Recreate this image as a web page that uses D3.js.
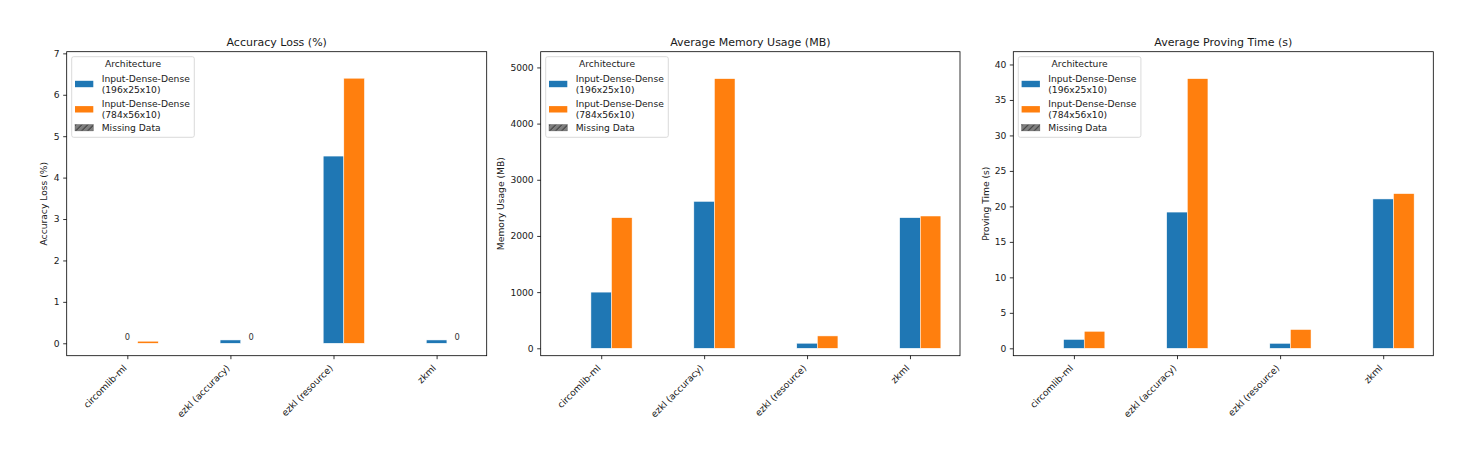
<!DOCTYPE html>
<html>
<head>
<meta charset="utf-8">
<script src="https://cdn.jsdelivr.net/npm/d3@7"></script>
<style>
  html, body { margin: 0; padding: 0; background: #fff; }
  svg { display: block; font-family: "DejaVu Sans", sans-serif; }
</style>
</head>
<body>
<svg id="chart" width="1472" height="450"></svg>
<script>
// ---- data ----
const categories = ["circomlib-ml", "ezkl (accuracy)", "ezkl (resource)", "zkml"];
const seriesNames = ["Input-Dense-Dense\n(196x25x10)", "Input-Dense-Dense\n(784x56x10)"];
const seriesColors = ["#1f77b4", "#ff7f0e"];

const accuracySmall = [0, 0.08, 4.52, 0.08];
const accuracyLarge = [0.05, 0, 6.4, 0];
const accuracyTicks = [0, 1, 2, 3, 4, 5, 6, 7];

const memorySmall = [1000, 2615, 90, 2325];
const memoryLarge = [2325, 4800, 220, 2355];
const memoryTicks = [0, 1000, 2000, 3000, 4000, 5000];

const timeSmall = [1.25, 19.2, 0.7, 21.05];
const timeLarge = [2.4, 38.0, 2.65, 21.8];
const timeTicks = [0, 5, 10, 15, 20, 25, 30, 35, 40];

const panels = [
  { title: "Accuracy Loss (%)", ylabel: "Accuracy Loss (%)", small: accuracySmall, large: accuracyLarge,
    ticks: accuracyTicks, ymin: -0.3, ymax: 7.04, left: 66.7, right: 486.7, ylabelX: 43.5, zeroLabels: true },
  { title: "Average Memory Usage (MB)", ylabel: "Memory Usage (MB)", small: memorySmall, large: memoryLarge,
    ticks: memoryTicks, ymin: -132, ymax: 5280, left: 540.7, right: 960, ylabelX: 500, zeroLabels: false },
  { title: "Average Proving Time (s)", ylabel: "Proving Time (s)", small: timeSmall, large: timeLarge,
    ticks: timeTicks, ymin: -1.04, ymax: 41.8, left: 1013.3, right: 1433.3, ylabelX: 985, zeroLabels: false }
];

const svg = d3.select("#chart");
const axTop = 51.7, axBottom = 355.7;
const barW = 0.2;
const fs = 9.17;
const textColor = "#1a1a1a";

// hatch pattern
const defs = svg.append("defs");
const pat = defs.append("pattern").attr("id", "hatch").attr("patternUnits", "userSpaceOnUse")
  .attr("width", 6).attr("height", 6);
pat.append("rect").attr("width", 6).attr("height", 6).attr("fill", "#7f7f7f");
pat.append("path").attr("d", "M-1,7 L7,-1").attr("stroke", "#222").attr("stroke-width", 1);

panels.forEach(p => {
  const g = svg.append("g");
  const x = d3.scaleLinear().domain([-0.588, 3.486]).range([p.left, p.right]);
  const y = d3.scaleLinear().domain([p.ymin, p.ymax]).range([axBottom, axTop]);

  // bars
  const seriesVals = [p.small, p.large];
  seriesVals.forEach((vals, si) => {
    g.selectAll(null).data(vals.map((v, i) => ({ v, i }))).enter()
      .append("rect")
      .attr("x", d => x(d.i + si * barW - barW / 2))
      .attr("width", d => x(barW) - x(0))
      .attr("y", d => y(Math.max(d.v, 0)))
      .attr("height", d => Math.abs(y(0) - y(d.v)))
      .attr("fill", seriesColors[si])
      .attr("stroke", "#fff").attr("stroke-width", 0.5);
    if (p.zeroLabels) {
      g.selectAll(null).data(vals.map((v, i) => ({ v, i })).filter(d => d.v === 0)).enter()
        .append("text")
        .attr("x", d => x(d.i + si * barW))
        .attr("y", y(0) - 3)
        .attr("text-anchor", "middle")
        .attr("font-size", 8.3)
        .attr("fill", "#333")
        .text("0");
    }
  });

  // y axis
  const yAxis = d3.axisLeft(y).tickValues(p.ticks).tickSize(3.5).tickPadding(3.5).tickFormat(d3.format("d"));
  const ya = g.append("g").attr("transform", `translate(${p.left},0)`).call(yAxis);
  ya.select(".domain").remove();
  ya.selectAll("line").attr("stroke", "#000").attr("stroke-width", 0.8);
  ya.selectAll("text").attr("font-size", fs).attr("fill", textColor).attr("font-family", "DejaVu Sans");

  // x axis
  const xAxis = d3.axisBottom(x).tickValues(d3.range(categories.length)).tickSize(3.5).tickFormat(() => "");
  const xa = g.append("g").attr("transform", `translate(0,${axBottom})`).call(xAxis);
  xa.select(".domain").remove();
  xa.selectAll("line").attr("stroke", "#000").attr("stroke-width", 0.8);
  g.selectAll(null).data(categories).enter().append("text")
    .attr("transform", (d, i) => `translate(${x(i) - 2.5},${axBottom + 10.5}) rotate(-45)`)
    .attr("text-anchor", "end")
    .attr("dominant-baseline", "central")
    .attr("font-size", fs)
    .attr("fill", textColor)
    .text(d => d);

  // frame
  g.append("rect").attr("x", p.left).attr("y", axTop).attr("width", p.right - p.left).attr("height", axBottom - axTop)
    .attr("fill", "none").attr("stroke", "#000").attr("stroke-width", 0.8);

  // title
  g.append("text").attr("x", (p.left + p.right) / 2).attr("y", axTop - 6)
    .attr("text-anchor", "middle").attr("font-size", 11).attr("fill", textColor).text(p.title);

  // y label
  g.append("text").attr("transform", `translate(${p.ylabelX},${(axTop + axBottom) / 2}) rotate(-90)`)
    .attr("text-anchor", "middle").attr("dominant-baseline", "central")
    .attr("font-size", fs).attr("fill", textColor).text(p.ylabel);

  // legend
  const lx = p.left + 5, ly = axTop + 5;
  const lg = g.append("g").attr("transform", `translate(${lx},${ly})`);
  lg.append("rect").attr("x", 0).attr("y", 0).attr("width", 122.6).attr("height", 80.6)
    .attr("rx", 2).attr("fill", "#fff").attr("fill-opacity", 0.8)
    .attr("stroke", "#d0d0d0").attr("stroke-width", 0.8);
  lg.append("text").attr("x", 61.3).attr("y", 7.2).attr("text-anchor", "middle")
    .attr("dominant-baseline", "central").attr("font-size", fs).attr("fill", textColor).text("Architecture");
  const entryY = [27.3, 52.6];
  seriesNames.forEach((name, si) => {
    lg.append("rect").attr("x", 3.3).attr("y", entryY[si] - 3.2).attr("width", 18.3).attr("height", 6.4)
      .attr("fill", seriesColors[si]);
    const lines = name.split("\n");
    lines.forEach((ln, li) => {
      lg.append("text").attr("x", 30).attr("y", entryY[si] - 5.5 + li * 11)
        .attr("dominant-baseline", "central").attr("font-size", fs).attr("fill", textColor).text(ln);
    });
  });
  lg.append("rect").attr("x", 3.3).attr("y", 71 - 3.2).attr("width", 18.3).attr("height", 6.4)
    .attr("fill", "url(#hatch)").attr("stroke", "#555").attr("stroke-width", 0.4);
  lg.append("text").attr("x", 30).attr("y", 71)
    .attr("dominant-baseline", "central").attr("font-size", fs).attr("fill", textColor).text("Missing Data");
});
</script>
</body>
</html>
